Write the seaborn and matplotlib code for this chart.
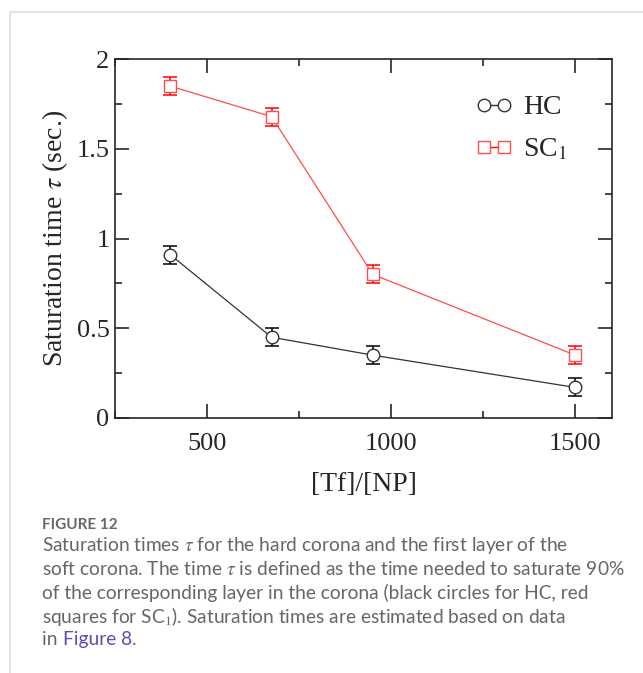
import numpy as np
import pandas as pd
import seaborn as sns
import matplotlib.pyplot as plt
from matplotlib.lines import Line2D
from matplotlib.ticker import MultipleLocator, FormatStrFormatter

# data
ratio = [400, 675, 950, 1500]
hc_tau = [0.91, 0.45, 0.35, 0.17]
hc_err = [0.05, 0.05, 0.05, 0.05]
sc1_tau = [1.85, 1.68, 0.80, 0.35]
sc1_err = [0.05, 0.05, 0.05, 0.05]

df = pd.DataFrame({
    'ratio': ratio * 2,
    'tau': hc_tau + sc1_tau,
    'err': hc_err + sc1_err,
    'layer': ['HC'] * 4 + ['SC1'] * 4,
})

sns.set_style('ticks')
plt.rcParams['font.family'] = ['Liberation Serif', 'DejaVu Serif']
plt.rcParams['mathtext.fontset'] = 'stix'

fig = plt.figure(figsize=(6.43, 6.73), dpi=100)
ax = fig.add_axes([0.179, 0.379, 0.773, 0.533])

styles = {'HC': ('#333333', 'black', 'o', 9), 'SC1': ('#ff4d4d', 'red', 's', 8)}
for name, (lc, ec, mk, ms) in styles.items():
    d = df[df['layer'] == name]
    ax.errorbar(d['ratio'], d['tau'], yerr=d['err'], fmt='none', ecolor=ec,
                elinewidth=1.1, capsize=5, capthick=1.1, zorder=2)
    sns.lineplot(data=d, x='ratio', y='tau', ax=ax, color=lc, lw=0.9,
                 marker=mk, markersize=ms, markerfacecolor='white',
                 markeredgecolor=lc, markeredgewidth=1.0, zorder=3)

ax.set_xlim(250, 1600)
ax.set_ylim(0, 2)
ax.xaxis.set_major_locator(MultipleLocator(500))
ax.xaxis.set_minor_locator(MultipleLocator(250))
ax.yaxis.set_major_locator(MultipleLocator(0.5))
ax.yaxis.set_minor_locator(MultipleLocator(0.25))
ax.yaxis.set_major_formatter(FormatStrFormatter('%g'))
ax.tick_params(which='both', direction='in', top=True, right=True, width=1.2, labelsize=19)
ax.tick_params(which='major', length=10)
ax.tick_params(which='minor', length=5)
ax.tick_params(axis='x', which='major', pad=11)
ax.tick_params(axis='y', which='major', pad=4)
for s in ax.spines.values():
    s.set_linewidth(1.2)

ax.set_xlabel('[Tf]/[NP]', fontsize=20, labelpad=12)
ax.set_ylabel(r'Saturation time $\tau$ (sec.)', fontsize=20, labelpad=5)

handles = [
    Line2D([], [], color='#333333', lw=1, marker='o', markersize=9,
           markerfacecolor='white', markeredgecolor='#333333'),
    Line2D([], [], color='red', lw=1, marker='s', markersize=8,
           markerfacecolor='white', markeredgecolor='#ff4d4d'),
]
ax.legend(handles, ['HC', r'SC$_1$'], numpoints=2, frameon=False, fontsize=20,
          loc='upper right', bbox_to_anchor=(0.96, 0.97), handlelength=1.3,
          handletextpad=0.4, labelspacing=0.6)

# page frame and caption
fig.add_artist(Line2D([0.016, 0.016], [0.0, 0.982], color='#dddddd', lw=1.2))
fig.add_artist(Line2D([0.016, 1.0], [0.982, 0.982], color='#dddddd', lw=1.2))

cap_font = ['Lato', 'DejaVu Sans']
cap_col = '#666666'
fig.text(0.066, 0.220, 'FIGURE 12', fontsize=11, color=cap_col,
         family=cap_font, fontweight='bold', va='center')
lines = [
    r'Saturation times $\tau$ for the hard corona and the first layer of the',
    r'soft corona. The time $\tau$ is defined as the time needed to saturate 90%',
    'of the corresponding layer in the corona (black circles for HC, red',
    r'squares for SC$_1$). Saturation times are estimated based on data',
]
for i, t in enumerate(lines):
    fig.text(0.066, 0.190 - i * 0.0352, t, fontsize=13.8, color=cap_col,
             family=cap_font, va='center')
y_last = 0.190 - 4 * 0.0352
t0 = fig.text(0.066, y_last, 'in ', fontsize=13.8, color=cap_col, family=cap_font, va='center')
fig.canvas.draw()
bb = t0.get_window_extent().transformed(fig.transFigure.inverted())
t1 = fig.text(bb.x1, y_last, 'Figure 8', fontsize=13.8, color='#5a4fb0', family=cap_font, va='center')
fig.canvas.draw()
bb = t1.get_window_extent().transformed(fig.transFigure.inverted())
fig.text(bb.x1, y_last, '.', fontsize=13.8, color=cap_col, family=cap_font, va='center')

fig.savefig('out.png', dpi=100)
